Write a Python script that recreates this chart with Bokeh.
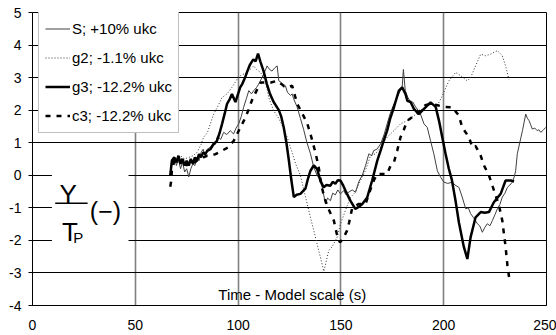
from bokeh.plotting import figure
from bokeh.models import Range1d, FixedTicker, Legend, LegendItem, Label, BoxAnnotation
from bokeh.embed import file_html
from bokeh.resources import INLINE

# ---------------- data ----------------
x_ticks = [0, 50, 100, 150, 200, 250]
x_tick_labels = ["0", "50", "100", "150", "200", "250"]
y_ticks = [-4, -3, -2, -1, 0, 1, 2, 3, 4, 5]
y_tick_labels = ["-4", "-3", "-2", "-1", "0", "1", "2", "3", "4", "5"]

series_names = ["S; +10% ukc", "g2; -1.1% ukc", "g3; -12.2% ukc", "c3; -12.2% ukc"]

s_t = [67, 68, 69, 70, 71, 72, 73, 74, 75, 76, 77, 78, 79, 80, 81, 82, 83, 84, 85, 86.5, 88, 89, 90, 91.5,
       93, 94.5, 96.2, 97.8, 99, 100.3, 101.5, 102.7, 104, 105.2, 106.5, 107.6, 109, 110, 111.2, 112.5,
       114.1, 115.3, 116.5, 117.8, 119, 119.8, 121, 122.2, 123, 124, 125.5, 126.3, 127, 128.7, 130.3,
       131.9, 133.5, 135.2, 136.8, 138.4, 139.5, 140.9, 142.5, 143.5, 144.9, 146, 147.3, 148.5, 149.8,
       151.4, 152.5, 153.8, 155.5, 157.1, 158.7, 160.4, 162, 163.6, 165, 166, 167.5, 169.3, 171, 172.5,
       174, 175.8, 177, 178.5, 179.8, 180.4, 181.3, 182.5, 183.9, 185, 186.3, 187.5, 188.7, 190.4, 192,
       193.6, 195.2, 196.9, 198.5, 200.1, 202, 204.2, 205.5, 207.4, 209, 210.7, 212, 213.1, 214.5, 216.4,
       217.5, 218.8, 220, 221.2, 222.5, 223.7, 225, 226.1, 227.3, 228.5, 229.8, 231, 232.2, 233.4, 234.3,
       235, 235.8, 237, 238.3, 239.9, 240.7, 241.5, 242.3, 243.1, 244.3, 245.5, 246.3, 247.2, 248.3, 249.6]
s_v = [0.1, 0.4, 0.55, 0.3, 0.5, 0.2, 0.4, 0.1, 0.2, -0.05, 0.2, 0.35, 0.3, 0.55, 0.45, 0.7, 0.8, 0.6, 0.8, 0.86,
       1.0, 0.95, 1.2, 1.1, 1.32, 1.25, 1.37, 1.27, 1.45, 1.58, 1.8, 2.09, 2.35, 2.6, 2.5, 2.6, 2.7, 2.8, 2.95,
       3.11, 3.36, 3.25, 3.2, 3.3, 3.36, 2.9, 2.85, 2.7, 2.75, 2.55, 2.45, 2.5, 2.35, 2.1, 1.75, 1.4, 1.0, 0.66,
       0.25, 0.0, -0.1, -0.37, -0.88, -0.7, -0.78, -0.55, -0.6, -0.45, -0.57, -0.47, -0.6, -0.52, -0.45, -0.52,
       -0.2, 0.0, 0.3, 0.66, 0.6, 0.76, 0.8, 0.96, 1.25, 1.58, 1.9, 2.19, 2.35, 2.55, 2.7, 3.25, 2.6, 2.4, 2.24,
       2.25, 2.1, 2.0, 1.88, 1.58, 1.47, 1.06, 0.66, 0.14, -0.06, -0.21, -0.25, -0.21, -0.3, -0.37, -0.67,
       -1.03, -1.0, -1.18, -1.3, -1.49, -1.55, -1.75, -1.6, -1.49, -1.55, -1.39, -1.2, -1.03, -0.9, -0.67,
       -0.55, -0.37, -0.3, -0.21, -0.05, 0.14, 0.66, 1.0, 1.37, 1.88, 1.75, 1.68, 1.55, 1.42, 1.45, 1.37, 1.4,
       1.32, 1.38, 1.47]

g2_t = [67, 68, 70, 72, 74, 76, 78, 80, 82, 83.2, 85, 86.5, 88.1, 90, 92.2, 94.6, 97, 99.5, 101.1, 104.4,
        107.6, 109, 110.9, 113.3, 114.9, 117.3, 119.8, 122, 124, 126, 128, 130.3, 133.6, 136.8, 140, 141.7,
        144.1, 145.7, 148.2, 149.8, 152.2, 154.6, 157.1, 159.5, 161.9, 164.4, 166.8, 169.3, 172.5, 175.8,
        179, 182.3, 185, 188.7, 193.6, 196.9, 199.3, 202.5, 205.8, 208.2, 211.5, 213.1, 215.5, 218, 220.4,
        222.8, 226.1, 228.5, 230.1, 231.7]
g2_v = [0.1, 0.5, 0.4, 0.6, 0.5, 0.55, 0.6, 0.7, 0.95, 1.17, 1.3, 1.58, 1.88, 2.1, 2.39, 2.5, 2.7, 2.95, 3.06,
        3.16, 3.36, 3.25, 3.16, 2.9, 2.39, 1.98, 1.75, 1.45, 1.15, 0.75, 0.35, 0.0, -0.88, -1.7, -2.51, -2.95,
        -2.31, -2.2, -1.9, -1.5, -1.08, -0.68, -0.52, -0.16, 0.14, 0.6, 0.66, 0.86, 1.17, 1.37, 1.58, 1.68, 1.8,
        2.0, 2.19, 2.14, 2.44, 2.9, 3.16, 3.06, 2.9, 3.0, 3.36, 3.72, 3.67, 3.72, 3.83, 3.67, 3.36, 2.95]

g3_t = [67, 67.8, 69, 70, 71, 72, 73, 74, 75, 76, 77, 78, 79, 80, 81, 82, 83, 84, 85, 86.5, 88, 89.7, 91,
        92.2, 93.5, 94.6, 96, 97, 98.7, 100, 101, 102, 103.4, 104.5, 105.8, 107.4, 108.5, 109.7, 110.8, 112.4,
        114, 115.5, 117.3, 119.8, 121, 122.2, 123.5, 124.6, 125.8, 127.1, 128.5, 130.3, 132.8, 134, 135.2,
        136.8, 138.4, 140, 141.6, 143, 144.9, 146, 147.3, 148.5, 149.8, 151, 152.2, 154.6, 157, 158.5, 160.4,
        162.8, 165.2, 167.7, 169.3, 171, 172.5, 174, 175.8, 177, 178.2, 179.8, 181.4, 182.3, 183.9, 185.5,
        187.9, 190.4, 193.6, 196.1, 197.7, 199.3, 200.9, 202.5, 204, 205.8, 207.4, 209.8, 211.5, 213.1,
        215.5, 218, 220, 222, 224.4, 227.7, 230.1, 232.6, 234.2]
g3_v = [0.0, 0.45, 0.55, 0.4, 0.6, 0.35, 0.5, 0.3, 0.45, 0.3, 0.5, 0.35, 0.55, 0.45, 0.65, 0.55, 0.7, 0.65,
        0.75, 0.8, 0.95, 1.06, 1.3, 1.58, 1.9, 2.19, 2.35, 2.5, 2.25, 2.5, 2.7, 2.8, 3.0, 3.2, 3.4, 3.56, 3.5,
        3.74, 3.5, 3.2, 2.8, 2.5, 2.25, 2.0, 1.8, 1.47, 1.0, 0.5, -0.1, -0.67, -0.6, -0.57, -0.4, -0.1, 0.14,
        0.3, 0.2, -0.16, -0.37, -0.3, -0.32, -0.2, -0.26, -0.15, -0.16, -0.3, -0.47, -0.78, -1.03, -0.98,
        -0.88, -0.68, -0.16, 0.45, 0.76, 1.1, 1.37, 1.75, 2.09, 2.35, 2.6, 2.7, 2.5, 2.29, 2.25, 2.04, 1.88,
        2.04, 2.24, 2.1, 1.68, 1.17, 0.66, 0.2, -0.15, -0.8, -1.45, -2.2, -2.57, -1.9, -1.29, -1.13, -1.15,
        -1.13, -0.83, -0.57, -0.16, -0.16, -0.19]

c3_t = [67, 67.4, 67.8, 69, 71, 73, 75, 77, 79, 81, 83, 85, 86.5, 89, 92, 95, 97.9, 100.3, 103, 105, 107, 109,
        111, 113, 116, 119, 122.2, 124, 126.3, 128.7, 131.2, 133.6, 135.2, 137.6, 139.2, 140.5, 142, 144.1,
        146.6, 148, 149.5, 151, 153, 154, 155.5, 158.7, 162, 163.6, 166, 167.7, 172.5, 174.2, 175.8, 177.4,
        179, 180.6, 182.3, 185, 188, 191, 194, 197, 200, 204.2, 207.4, 209, 212.3, 213.9, 215.5, 218, 219.6,
        222, 223.7, 226.9, 228.5, 229.3, 230.1, 231, 231.8]
c3_v = [-0.35, -0.2, 0.15, 0.45, 0.35, 0.5, 0.3, 0.45, 0.4, 0.5, 0.55, 0.6, 0.6, 0.65, 0.75, 0.85, 1.06, 1.37,
        1.7, 2.0, 2.35, 2.6, 2.85, 2.85, 2.85, 2.9, 2.75, 2.7, 2.75, 2.2, 1.9, 1.6, 1.27, 0.7, 0.25, -0.3, -0.7,
        -1.05, -1.4, -1.8, -2.06, -1.95, -1.7, -1.45, -1.0, -0.88, -0.88, -0.57, -0.16, 0.04, 0.04, 0.3, 0.4,
        0.76, 1.17, 1.4, 1.68, 1.8, 1.95, 2.15, 2.2, 2.15, 2.1, 2.09, 1.83, 1.47, 1.17, 0.86, 0.9, 0.6, 0.3,
        0.0, -0.32, -0.93, -1.39, -1.8, -2.2, -2.77, -3.13]

# ---------------- figure ----------------
FONT = "Liberation Sans"
p = figure(width=556, height=335, output_backend="svg", toolbar_location=None,
           x_range=Range1d(0, 250), y_range=Range1d(-4, 5),
           min_border_left=32, min_border_right=10, min_border_top=12, min_border_bottom=30)
p.outline_line_color = "black"
p.outline_line_width = 1
p.background_fill_color = "white"
p.border_fill_color = "white"

p.xaxis.ticker = FixedTicker(ticks=x_ticks)
p.yaxis.ticker = FixedTicker(ticks=y_ticks)
p.xaxis.major_label_overrides = {t: l for t, l in zip(x_ticks, x_tick_labels)}
p.yaxis.major_label_overrides = {t: l for t, l in zip(y_ticks, y_tick_labels)}
for ax in (p.xaxis, p.yaxis):
    ax.major_label_text_font = FONT
    ax.major_label_text_font_size = "14px"
    ax.major_label_text_color = "black"
    ax.axis_line_color = "black"
    ax.axis_line_width = 1
    ax.minor_tick_line_color = None
    ax.major_tick_line_color = "black"
    ax.major_tick_in = 0
p.xaxis.major_tick_out = 0
p.xaxis.major_label_standoff = 14
p.yaxis.major_tick_out = 4
p.yaxis.major_label_standoff = 7

p.ygrid.grid_line_color = "black"
p.ygrid.grid_line_width = 1
p.xgrid.grid_line_color = "#808080"
p.xgrid.grid_line_width = 1.6

r_s = p.line(s_t, s_v, line_color="#404040", line_width=1)
r_g2 = p.line(g2_t, g2_v, line_color="#333333", line_width=1, line_dash="1 2")
r_g3 = p.line(g3_t, g3_v, line_color="black", line_width=2.5)
r_c3 = p.line(c3_t, c3_v, line_color="black", line_width=2.5, line_dash="5 6")

# white patch behind the y-axis label
p.add_layout(BoxAnnotation(left=9.45, right=46.7, top=0.6, bottom=-2.6,
                           fill_color="white", fill_alpha=1, line_color=None))
p.add_layout(Label(x=17.4, y=-0.59, text="Y", text_align="center", text_baseline="alphabetic",
                   text_font=FONT, text_font_size="26px", text_color="black"))
p.add_layout(BoxAnnotation(left=11.05, right=26.8, top=-0.835, bottom=-0.88,
                           fill_color="black", fill_alpha=1, line_color=None))
p.add_layout(Label(x=14.3, y=-1.75, text="T", text_align="left", text_baseline="alphabetic",
                   text_font=FONT, text_font_size="26px", text_color="black"))
p.add_layout(Label(x=19.8, y=-1.92, text="P", text_align="left", text_baseline="alphabetic",
                   text_font=FONT, text_font_size="15px", text_color="black"))
p.add_layout(Label(x=27.9, y=-1.10, text="(\u2212)", text_align="left", text_baseline="alphabetic",
                   text_font=FONT, text_font_size="25px", text_color="black"))

p.add_layout(Label(x=90.4, y=-3.66, text="Time - Model scale (s)", text_align="left",
                   text_baseline="alphabetic", text_font=FONT, text_font_size="15px",
                   text_color="black"))

legend = Legend(items=[LegendItem(label=series_names[0], renderers=[r_s]),
                       LegendItem(label=series_names[1], renderers=[r_g2]),
                       LegendItem(label=series_names[2], renderers=[r_g3]),
                       LegendItem(label=series_names[3], renderers=[r_c3])],
                location=(6, 172))
legend.label_text_font = FONT
legend.label_text_font_size = "15px"
legend.label_text_color = "black"
legend.glyph_width = 25
legend.glyph_height = 21
legend.label_height = 21
legend.label_standoff = 2
legend.spacing = 8
legend.padding = 6
legend.margin = 0
legend.border_line_color = "#808080"
legend.border_line_width = 1
legend.background_fill_color = "white"
legend.background_fill_alpha = 1
p.add_layout(legend)

open("out.html", "w").write(file_html(p, INLINE))
